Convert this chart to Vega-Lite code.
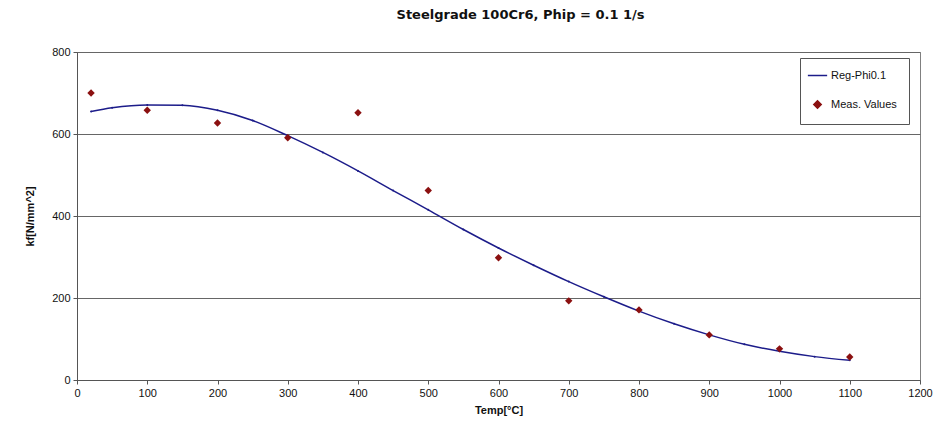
{
  "$schema": "https://vega.github.io/schema/vega-lite/v6.json",
  "autosize": {"type": "none"},
  "width": 843,
  "height": 328,
  "padding": {"left": 77, "top": 52, "right": 19, "bottom": 58},
  "background": "white",
  "title": {
    "text": "Steelgrade 100Cr6, Phip = 0.1 1/s",
    "font": "DejaVu Sans",
    "fontSize": 13,
    "fontWeight": "bold",
    "color": "#111111",
    "anchor": "middle",
    "offset": 24,
    "dx": 22
  },
  "config": {
    "view": {"stroke": "#808080", "strokeWidth": 1},
    "axis": {
      "labelFont": "Liberation Sans",
      "labelFontSize": 11,
      "labelColor": "#111111",
      "labelFlush": false,
      "titleFont": "Liberation Sans",
      "titleFontSize": 11,
      "titleFontWeight": "bold",
      "titleColor": "#111111",
      "domainColor": "#555555",
      "tickColor": "#555555",
      "tickSize": 4,
      "gridColor": "#666666",
      "gridOpacity": 1
    }
  },
  "datasets": {
    "reg": [
      {"Temp": 20, "kf": 655, "series": "Reg-Phi0.1"},
      {"Temp": 50, "kf": 664, "series": "Reg-Phi0.1"},
      {"Temp": 100, "kf": 671, "series": "Reg-Phi0.1"},
      {"Temp": 150, "kf": 670, "series": "Reg-Phi0.1"},
      {"Temp": 200, "kf": 658, "series": "Reg-Phi0.1"},
      {"Temp": 250, "kf": 633, "series": "Reg-Phi0.1"},
      {"Temp": 300, "kf": 596, "series": "Reg-Phi0.1"},
      {"Temp": 350, "kf": 555, "series": "Reg-Phi0.1"},
      {"Temp": 400, "kf": 510, "series": "Reg-Phi0.1"},
      {"Temp": 450, "kf": 462, "series": "Reg-Phi0.1"},
      {"Temp": 500, "kf": 415, "series": "Reg-Phi0.1"},
      {"Temp": 550, "kf": 367, "series": "Reg-Phi0.1"},
      {"Temp": 600, "kf": 322, "series": "Reg-Phi0.1"},
      {"Temp": 650, "kf": 280, "series": "Reg-Phi0.1"},
      {"Temp": 700, "kf": 240, "series": "Reg-Phi0.1"},
      {"Temp": 750, "kf": 203, "series": "Reg-Phi0.1"},
      {"Temp": 800, "kf": 168, "series": "Reg-Phi0.1"},
      {"Temp": 850, "kf": 137, "series": "Reg-Phi0.1"},
      {"Temp": 900, "kf": 110, "series": "Reg-Phi0.1"},
      {"Temp": 950, "kf": 87, "series": "Reg-Phi0.1"},
      {"Temp": 1000, "kf": 70, "series": "Reg-Phi0.1"},
      {"Temp": 1050, "kf": 57, "series": "Reg-Phi0.1"},
      {"Temp": 1100, "kf": 48, "series": "Reg-Phi0.1"}
    ],
    "meas": [
      {"Temp": 20, "kf": 700, "series": "Meas. Values"},
      {"Temp": 100, "kf": 658, "series": "Meas. Values"},
      {"Temp": 200, "kf": 627, "series": "Meas. Values"},
      {"Temp": 300, "kf": 591, "series": "Meas. Values"},
      {"Temp": 400, "kf": 652, "series": "Meas. Values"},
      {"Temp": 500, "kf": 462, "series": "Meas. Values"},
      {"Temp": 600, "kf": 298, "series": "Meas. Values"},
      {"Temp": 700, "kf": 193, "series": "Meas. Values"},
      {"Temp": 800, "kf": 171, "series": "Meas. Values"},
      {"Temp": 900, "kf": 110, "series": "Meas. Values"},
      {"Temp": 1000, "kf": 76, "series": "Meas. Values"},
      {"Temp": 1100, "kf": 56, "series": "Meas. Values"}
    ]
  },
  "encoding": {
    "x": {
      "field": "Temp",
      "type": "quantitative",
      "title": "Temp[°C]",
      "scale": {"domain": [0, 1200], "nice": false, "zero": true},
      "axis": {"values": [0,100,200,300,400,500,600,700,800,900,1000,1100,1200], "format": "d", "grid": false, "titlePadding": 6, "labelPadding": 3}
    },
    "y": {
      "field": "kf",
      "type": "quantitative",
      "title": "kf[N/mm^2]",
      "scale": {"domain": [0, 800], "nice": false},
      "axis": {"values": [0,200,400,600,800], "format": "d", "grid": true, "titlePadding": 16, "labelPadding": 3}
    },
    "color": {
      "field": "series",
      "type": "nominal",
      "scale": {"domain": ["Reg-Phi0.1", "Meas. Values"], "range": ["#1c1c8a", "#8b1010"]},
      "legend": {
        "title": null,
        "orient": "none",
        "legendX": 723,
        "legendY": 6,
        "direction": "vertical",
        "strokeColor": "#555555",
        "fillColor": "white",
        "padding": 12,
        "labelFont": "Liberation Sans",
        "labelFontSize": 11,
        "labelColor": "#111111",
        "labelOffset": 8,
        "rowPadding": 16,
        "symbolSize": 55
      }
    },
    "shape": {
      "field": "series",
      "type": "nominal",
      "scale": {"domain": ["Reg-Phi0.1", "Meas. Values"], "range": ["M-2.6,0H2.6", "diamond"]},
      "legend": {
        "title": null,
        "orient": "none",
        "legendX": 723,
        "legendY": 6,
        "direction": "vertical",
        "strokeColor": "#555555",
        "fillColor": "white",
        "padding": 12,
        "labelFont": "Liberation Sans",
        "labelFontSize": 11,
        "labelColor": "#111111",
        "labelOffset": 8,
        "rowPadding": 16,
        "symbolSize": 55,
        "encode": {"symbols": {"update": {"stroke": {"scale": "color", "field": "value"}, "strokeWidth": {"value": 1.5}}}}
      }
    }
  },
  "layer": [
    {
      "data": {"name": "reg"},
      "mark": {"type": "line", "strokeWidth": 1.5, "interpolate": "monotone", "point": {"filled": true, "size": 4, "shape": "circle"}},
      "encoding": {"shape": {"value": "circle"}}
    },
    {
      "data": {"name": "meas"},
      "mark": {"type": "point", "filled": true, "size": 55, "opacity": 1}
    }
  ]
}
